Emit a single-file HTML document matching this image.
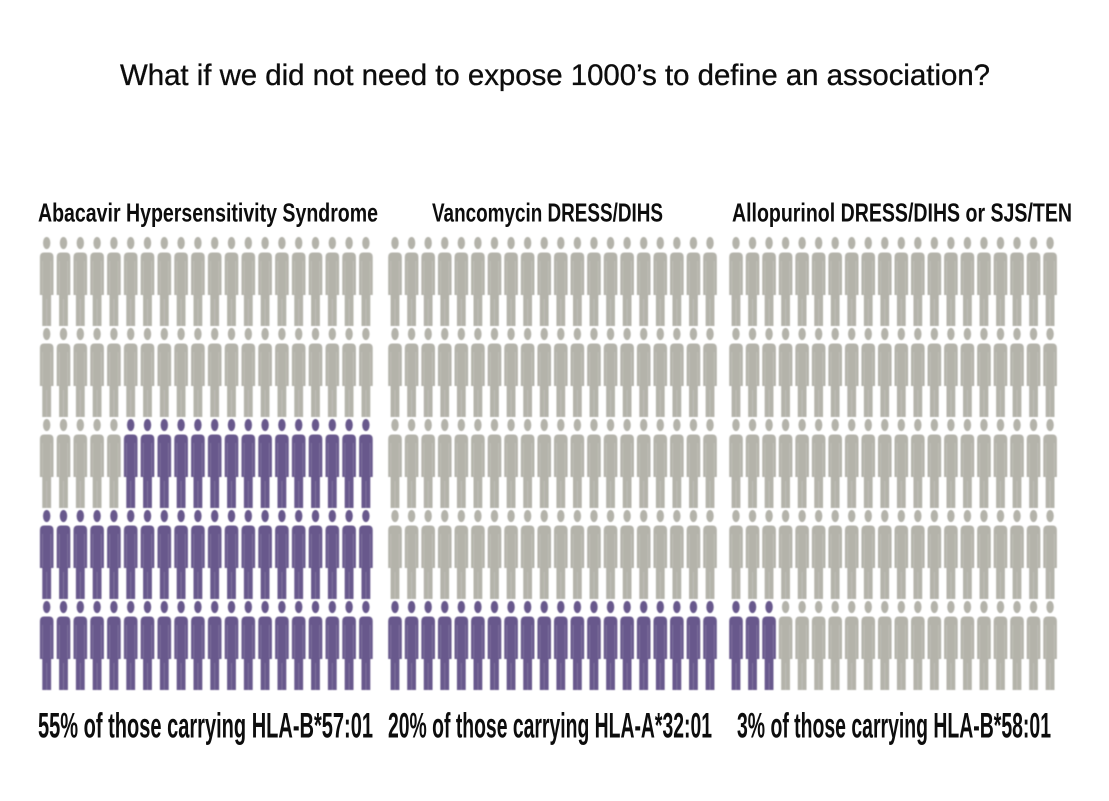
<!DOCTYPE html>
<html>
<head>
<meta charset="utf-8">
<style>
  html, body { margin: 0; padding: 0; background: #ffffff; }
  body { width: 1109px; height: 801px; overflow: hidden; }
  svg { display: block; }
  text { font-family: "Liberation Sans", "DejaVu Sans", sans-serif; fill: #0d0d0d; }
  .b { font-weight: bold; }
</style>
</head>
<body>
<svg width="1109" height="801" viewBox="0 0 1109 801" xmlns="http://www.w3.org/2000/svg">
  <defs>
    <filter id="soft" x="-5%" y="-5%" width="110%" height="110%">
      <feGaussianBlur stdDeviation="0.45"/>
    </filter>
    <g id="fig">
      <ellipse cx="0" cy="6" rx="3.7" ry="6.1"/>
      <path d="M-6.8,58 L-6.8,20 Q-6.8,15.5 -2.5,15.5 L2.5,15.5 Q6.8,15.5 6.8,20 L6.8,58 Z"/>
      <rect x="-4.4" y="57" width="8.8" height="32"/>
      <g stroke="#ffffff" stroke-opacity="0.18" stroke-width="0.8">
        <line x1="0" y1="62" x2="0" y2="89"/>
        <line x1="-4.2" y1="24" x2="-4.2" y2="57"/>
        <line x1="4.2" y1="24" x2="4.2" y2="57"/>
      </g>
    </g>
    <!-- Panel 1 -->
    <pattern id="g1" patternUnits="userSpaceOnUse" x="38.3" y="237" width="16.8" height="91">
      <use href="#fig" x="8.4" y="0" fill="#b4b3aa"/>
    </pattern>
    <pattern id="p1" patternUnits="userSpaceOnUse" x="38.3" y="237" width="16.8" height="91">
      <use href="#fig" x="8.4" y="0" fill="#68588c"/>
    </pattern>
    <!-- Panel 2 -->
    <pattern id="g2" patternUnits="userSpaceOnUse" x="386.71" y="237" width="16.58" height="91">
      <use href="#fig" x="8.29" y="0" fill="#b4b3aa"/>
    </pattern>
    <pattern id="p2" patternUnits="userSpaceOnUse" x="386.71" y="237" width="16.58" height="91">
      <use href="#fig" x="8.29" y="0" fill="#68588c"/>
    </pattern>
    <!-- Panel 3 -->
    <pattern id="g3" patternUnits="userSpaceOnUse" x="727.735" y="237" width="16.53" height="91">
      <use href="#fig" x="8.265" y="0" fill="#b4b3aa"/>
    </pattern>
    <pattern id="p3" patternUnits="userSpaceOnUse" x="727.735" y="237" width="16.53" height="91">
      <use href="#fig" x="8.265" y="0" fill="#68588c"/>
    </pattern>
  </defs>

  <!-- Title -->
  <text x="120" y="85" font-size="30" stroke="#0d0d0d" stroke-width="0.35" textLength="870" lengthAdjust="spacingAndGlyphs">What if we did not need to expose 1000’s to define an association?</text>

  <!-- Panel titles -->
  <text class="b" x="38" y="221.5" font-size="26" textLength="340" lengthAdjust="spacingAndGlyphs">Abacavir Hypersensitivity Syndrome</text>
  <text class="b" x="432" y="221.5" font-size="26" textLength="231" lengthAdjust="spacingAndGlyphs">Vancomycin DRESS/DIHS</text>
  <text class="b" x="732" y="221.5" font-size="26" textLength="340" lengthAdjust="spacingAndGlyphs">Allopurinol DRESS/DIHS or SJS/TEN</text>

  <g filter="url(#soft)">
  <!-- Panel 1 figures -->
  <rect x="38.3" y="237" width="336" height="182" fill="url(#g1)"/>
  <rect x="38.3" y="419" width="84" height="91" fill="url(#g1)"/>
  <rect x="122.3" y="419" width="252" height="91" fill="url(#p1)"/>
  <rect x="38.3" y="510" width="336" height="182" fill="url(#p1)"/>

  <!-- Panel 2 figures -->
  <rect x="386.71" y="237" width="331.6" height="364" fill="url(#g2)"/>
  <rect x="386.71" y="601" width="331.6" height="91" fill="url(#p2)"/>

  <!-- Panel 3 figures -->
  <rect x="727.735" y="237" width="330.6" height="364" fill="url(#g3)"/>
  <rect x="727.735" y="601" width="49.59" height="91" fill="url(#p3)"/>
  <rect x="777.325" y="601" width="281.01" height="91" fill="url(#g3)"/>
  </g>

  <!-- Bottom labels -->
  <text class="b" x="38" y="737.5" font-size="35" textLength="335" lengthAdjust="spacingAndGlyphs">55% of those carrying HLA-B*57:01</text>
  <text class="b" x="388" y="737.5" font-size="35" textLength="324" lengthAdjust="spacingAndGlyphs">20% of those carrying HLA-A*32:01</text>
  <text class="b" x="737" y="737.5" font-size="35" textLength="314" lengthAdjust="spacingAndGlyphs">3% of those carrying HLA-B*58:01</text>
</svg>
</body>
</html>
